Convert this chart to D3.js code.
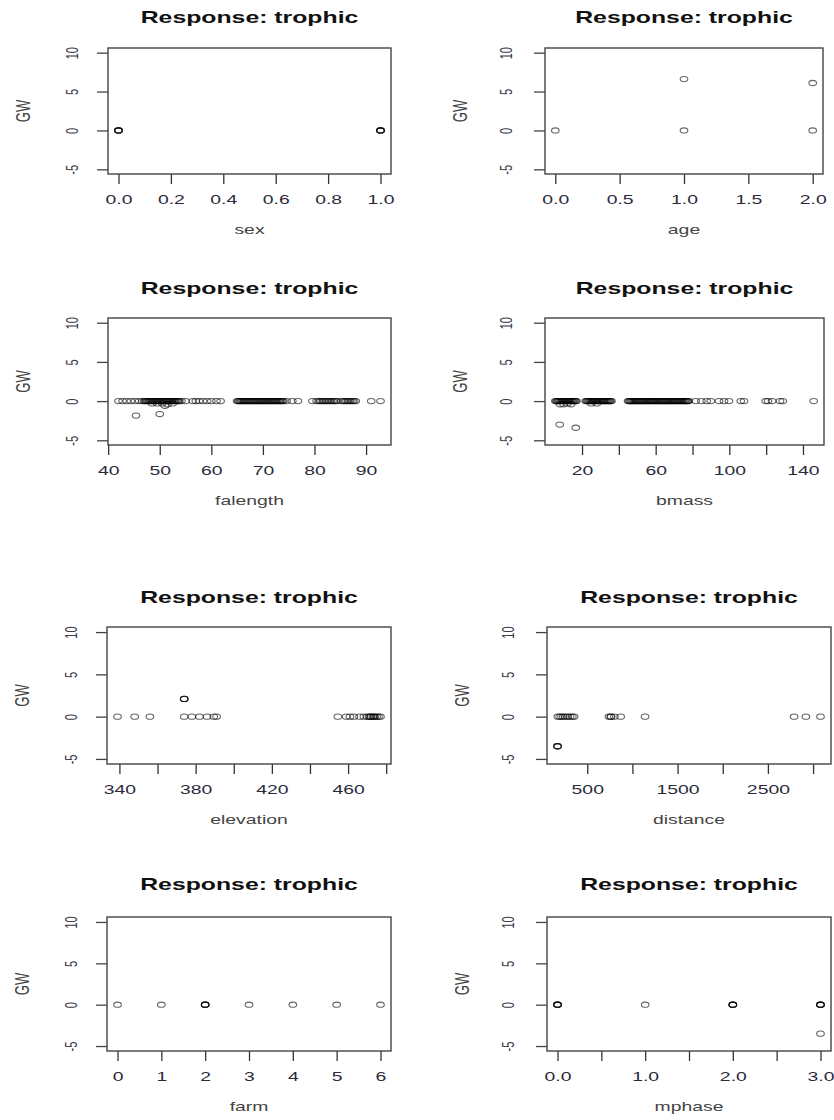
<!DOCTYPE html>
<html><head><meta charset="utf-8">
<script src="https://cdn.jsdelivr.net/npm/d3@7"></script>
<style>body{margin:0;background:#fff} svg{display:block}</style>
</head><body>
<svg id="c" width="834" height="1120"></svg>
<script>
// ---------- data ----------
const plotTitle = "Response: trophic";
const yLabel = "GW";
const yLimits = [-5, 10];
const yTicks = [-5, 0, 5, 10];

const sexPts = [[0,0],[0,0],[0,0],[0,0],[1,0],[1,0],[1,0],[1,0]];
const sexTicks = [0, 0.2, 0.4, 0.6, 0.8, 1.0];
const sexTickLabels = ["0.0","0.2","0.4","0.6","0.8","1.0"];

const agePts = [[0,0],[1,0],[1,6.6],[2,0],[2,6.1]];
const ageTicks = [0, 0.5, 1, 1.5, 2];
const ageTickLabels = ["0.0","0.5","1.0","1.5","2.0"];

const falengthPts = [
  [42,0],[42.8,0],[43.6,0],[44.4,0],[45.2,0],[46,0],[46.6,0],
  [47,0],[47.2,0],[47.4,0],[47.6,0],[47.8,0],[48,0],[48.2,0],[48.4,0],[48.6,0],[48.8,0],
  [49,0],[49.2,0],[49.4,0],[49.6,0],[49.8,0],[50,0],[50.2,0],[50.4,0],[50.6,0],[50.8,0],
  [51,0],[51.2,0],[51.4,0],[51.6,0],[51.8,0],[52,0],[52.2,0],[52.4,0],[52.6,0],[52.8,0],
  [53,0],[53.2,0],[53.4,0],[53.6,0],[53.8,0],[54.2,0],
  [55,0],[56.4,0],[57,0],[57.6,0],[58.4,0],[59.2,0],[60,0],[61,0],[61.8,0],
  [65,0],[65.2,0],[65.4,0],[65.6,0],[65.8,0],[66,0],[66.2,0],[66.4,0],[66.6,0],[66.8,0],
  [67,0],[67.2,0],[67.4,0],[67.6,0],[67.8,0],[68,0],[68.2,0],[68.4,0],[68.6,0],[68.8,0],
  [69,0],[69.2,0],[69.4,0],[69.6,0],[69.8,0],[70,0],[70.2,0],[70.4,0],[70.6,0],[70.8,0],
  [71,0],[71.2,0],[71.4,0],[71.6,0],[71.8,0],[72,0],[72.2,0],[72.4,0],[72.6,0],[72.8,0],
  [73,0],[73.2,0],[73.4,0],[73.6,0],[73.8,0],[74,0],
  [74.6,0],[75.7,0],[76.8,0],
  [79.6,0],[80.4,0],[80.8,0],[81.1,0],[81.4,0],[81.7,0],[82,0],[82.3,0],[82.6,0],[82.9,0],
  [83.2,0],[83.5,0],[83.8,0],[84.1,0],[84.4,0],[85.2,0],[85.6,0],[85.9,0],[86.2,0],[86.5,0],
  [86.8,0],[87.1,0],[87.4,0],[87.7,0],[88,0],
  [91,0],[92.8,0],
  [48.5,-0.3],[49.5,-0.3],[50.5,-0.3],[51.5,-0.4],[52.5,-0.3],[51,-0.6],
  [45.4,-1.85],[50,-1.65]
];
const falengthTicks = [40, 50, 60, 70, 80, 90];
const falengthTickLabels = ["40","50","60","70","80","90"];

const bmassPts = [
  [5.5,0],[6,0],[6.5,0],[7,0],[7.5,0],[8,0],[8.5,0],[9,0],[9.5,0],[10,0],[10.5,0],[11,0],
  [11.5,0],[12,0],[12.5,0],[13,0],[13.5,0],[14,0],[14.5,0],[15,0],[15.5,0],[16,0],[16.5,0],[17,0],
  [22,0],[22.5,0],[23,0],[23.5,0],[24,0],[24.5,0],[25,0],[25.5,0],[26,0],[26.5,0],[27,0],
  [27.5,0],[28,0],[28.5,0],[29,0],[29.5,0],[30,0],[30.5,0],[31,0],[31.5,0],[32,0],[32.5,0],
  [33,0],[33.5,0],[34,0],[34.5,0],[35,0],[35.5,0],[36,0],
  [45,0],[45.5,0],[46,0],[46.5,0],[47,0],[47.5,0],[48,0],[48.5,0],[49,0],[49.5,0],[50,0],
  [50.5,0],[51,0],[51.5,0],[52,0],[52.5,0],[53,0],[53.5,0],[54,0],[54.5,0],[55,0],[55.5,0],
  [56,0],[56.5,0],[57,0],[57.5,0],[58,0],[58.5,0],[59,0],[59.5,0],[60,0],[60.5,0],[61,0],
  [61.5,0],[62,0],[62.5,0],[63,0],[63.5,0],[64,0],[64.5,0],[65,0],[65.5,0],[66,0],[66.5,0],
  [67,0],[67.5,0],[68,0],[68.5,0],[69,0],[69.5,0],[70,0],[70.5,0],[71,0],[71.5,0],[72,0],
  [72.5,0],[73,0],[73.5,0],[74,0],[74.5,0],[75,0],[75.5,0],[76,0],[76.5,0],[77,0],[77.5,0],[78,0],
  [81.7,0],[84.8,0],[87.7,0],[89.9,0],[94.4,0],[97.1,0],[99.8,0],[106.2,0],[108,0],
  [119.7,0],[121,0],[123.2,0],[127.5,0],[129,0],[145.8,0],
  [8,-0.4],[10,-0.4],[12,-0.3],[14,-0.4],[25,-0.3],[28,-0.3],
  [7.9,-3.0],[16.6,-3.4]
];
const bmassTicks = [20, 40, 60, 80, 100, 120, 140];
const bmassTickLabels = ["20","","60","","100","","140"];

const elevationPts = [
  [339,0],[348,0],[356,0],[374,0],[378,0],[382,0],[386,0],[389.5,0],[391,0],
  [454.6,0],[459,0],[461,0],[463,0],[466,0],[468.3,0],[470,0],[471,0],[472,0],
  [473,0],[474,0],[475,0],[476,0],[477,0],[471.5,0],[473.5,0],
  [374,2.1],[374,2.1],[374,2.1]
];
const elevationTicks = [340, 360, 380, 400, 420, 440, 460, 480];
const elevationTickLabels = ["340","","380","","420","","460",""];

const distancePts = [
  [174,0],[195,0],[215,0],[235,0],[260,0],[285,0],[310,0],[335,0],[355,0],
  [740,0],[760,0],[765,0],[800,0],[870,0],[1140,0],
  [2790,0],[2920,0],[3082,0],
  [171,-3.5],[171,-3.5],[171,-3.5]
];
const distanceTicks = [500, 1000, 1500, 2000, 2500, 3000];
const distanceTickLabels = ["500","","1500","","2500",""];

const farmPts = [[0,0],[1,0],[2,0],[2,0],[2,0],[2,0],[3,0],[4,0],[5,0],[6,0]];
const farmTicks = [0, 1, 2, 3, 4, 5, 6];
const farmTickLabels = ["0","1","2","3","4","5","6"];

const mphasePts = [[0,0],[0,0],[0,0],[0,0],[1,0],[2,0],[2,0],[2,0],[2,0],
  [3,0],[3,0],[3,0],[3,0],[3,-3.5]];
const mphaseTicks = [0, 0.5, 1, 1.5, 2, 2.5, 3];
const mphaseTickLabels = ["0.0","","1.0","","2.0","","3.0"];

// ---------- layout ----------
const rows = [
  {top: 48,  bottom: 174,  titleY: 23},
  {top: 318, bottom: 445,  titleY: 294},
  {top: 627, bottom: 764,  titleY: 603},
  {top: 917, bottom: 1051, titleY: 890}
];
const cols = [
  [{x0: 108, x1: 391}, {x0: 545, x1: 823}],
  [{x0: 108, x1: 391}, {x0: 545, x1: 824}],
  [{x0: 107, x1: 391}, {x0: 547, x1: 831}],
  [{x0: 107, x1: 391}, {x0: 547, x1: 831}]
];
const panels = [
  {name: "sex", pts: sexPts, ticks: sexTicks, labels: sexTickLabels},
  {name: "age", pts: agePts, ticks: ageTicks, labels: ageTickLabels},
  {name: "falength", pts: falengthPts, ticks: falengthTicks, labels: falengthTickLabels},
  {name: "bmass", pts: bmassPts, ticks: bmassTicks, labels: bmassTickLabels},
  {name: "elevation", pts: elevationPts, ticks: elevationTicks, labels: elevationTickLabels},
  {name: "distance", pts: distancePts, ticks: distanceTicks, labels: distanceTickLabels},
  {name: "farm", pts: farmPts, ticks: farmTicks, labels: farmTickLabels},
  {name: "mphase", pts: mphasePts, ticks: mphaseTicks, labels: mphaseTickLabels}
];

const SX = 1.55;
const FONT = "'Liberation Sans', Arial, Helvetica, sans-serif";
const svg = d3.select("#c");

function padded(ext) {
  const r = ext[1] - ext[0];
  return [ext[0] - 0.04 * r, ext[1] + 0.04 * r];
}

panels.forEach((p, i) => {
  const row = rows[Math.floor(i / 2)];
  const col = cols[Math.floor(i / 2)][i % 2];
  const x = d3.scaleLinear().domain(padded(d3.extent(p.pts, d => d[0]))).range([col.x0, col.x1]);
  const y = d3.scaleLinear().domain(padded(yLimits)).range([row.bottom, row.top]);
  const g = svg.append("g");

  // title
  g.append("text")
    .attr("transform", `translate(${(col.x0 + col.x1) / 2},${row.titleY}) scale(${SX},1)`)
    .attr("text-anchor", "middle")
    .attr("font-family", FONT).attr("font-weight", "bold").attr("font-size", 16)
    .attr("fill", "#111").text(plotTitle);

  // x axis
  const xa = g.append("g")
    .attr("transform", `translate(0,${row.bottom})`)
    .call(d3.axisBottom(x).tickValues(p.ticks).tickSize(10)
      .tickFormat((d, k) => p.labels[k]));
  xa.select(".domain").remove();
  xa.attr("color", "#333").attr("font-family", FONT).attr("font-size", 12.5);
  xa.selectAll("line").attr("stroke-width", 1.3);
  xa.selectAll("text").attr("y", 30).attr("dy", null)
    .attr("transform", `scale(${SX},1)`).attr("fill", "#2a2a3a");

  // y axis
  const ya = g.append("g")
    .attr("transform", `translate(${col.x0},0)`)
    .call(d3.axisLeft(y).tickValues(yTicks).tickSize(11).tickFormat(String));
  ya.select(".domain").remove();
  ya.attr("color", "#444").attr("font-family", FONT).attr("font-size", 11);
  ya.selectAll("line").attr("stroke-width", 1.3);
  ya.selectAll("text").attr("x", 0).attr("dy", "0.35em").attr("text-anchor", "middle")
    .attr("transform", `translate(${i % 2 ? -39 : -36},0) scale(${SX},1) rotate(-90)`)
    .attr("fill", "#3a3a4a");

  // box
  g.append("rect")
    .attr("x", col.x0).attr("y", row.top)
    .attr("width", col.x1 - col.x0).attr("height", row.bottom - row.top)
    .attr("fill", "none").attr("stroke", "#444").attr("stroke-width", 1.4);

  // x label
  g.append("text")
    .attr("transform", `translate(${(col.x0 + col.x1) / 2},${row.bottom + 60}) scale(${SX},1)`)
    .attr("text-anchor", "middle")
    .attr("font-family", FONT).attr("font-size", 12.5)
    .attr("fill", "#444").text(p.name);

  // y label
  g.append("text")
    .attr("transform", `translate(${col.x0 - 85},${(row.top + row.bottom) / 2}) scale(${SX},1) rotate(-90)`)
    .attr("text-anchor", "middle").attr("dy", "0.35em")
    .attr("font-family", FONT).attr("font-size", 13)
    .attr("fill", "#444").text(yLabel);

  // points
  g.append("g").selectAll("ellipse").data(p.pts).join("ellipse")
    .attr("cx", d => x(d[0])).attr("cy", d => y(d[1]))
    .attr("rx", 3.8).attr("ry", 2.6)
    .attr("fill", "none").attr("stroke", "#000")
    .attr("stroke-opacity", 0.6).attr("stroke-width", 1.1);
});
</script>
</body></html>
